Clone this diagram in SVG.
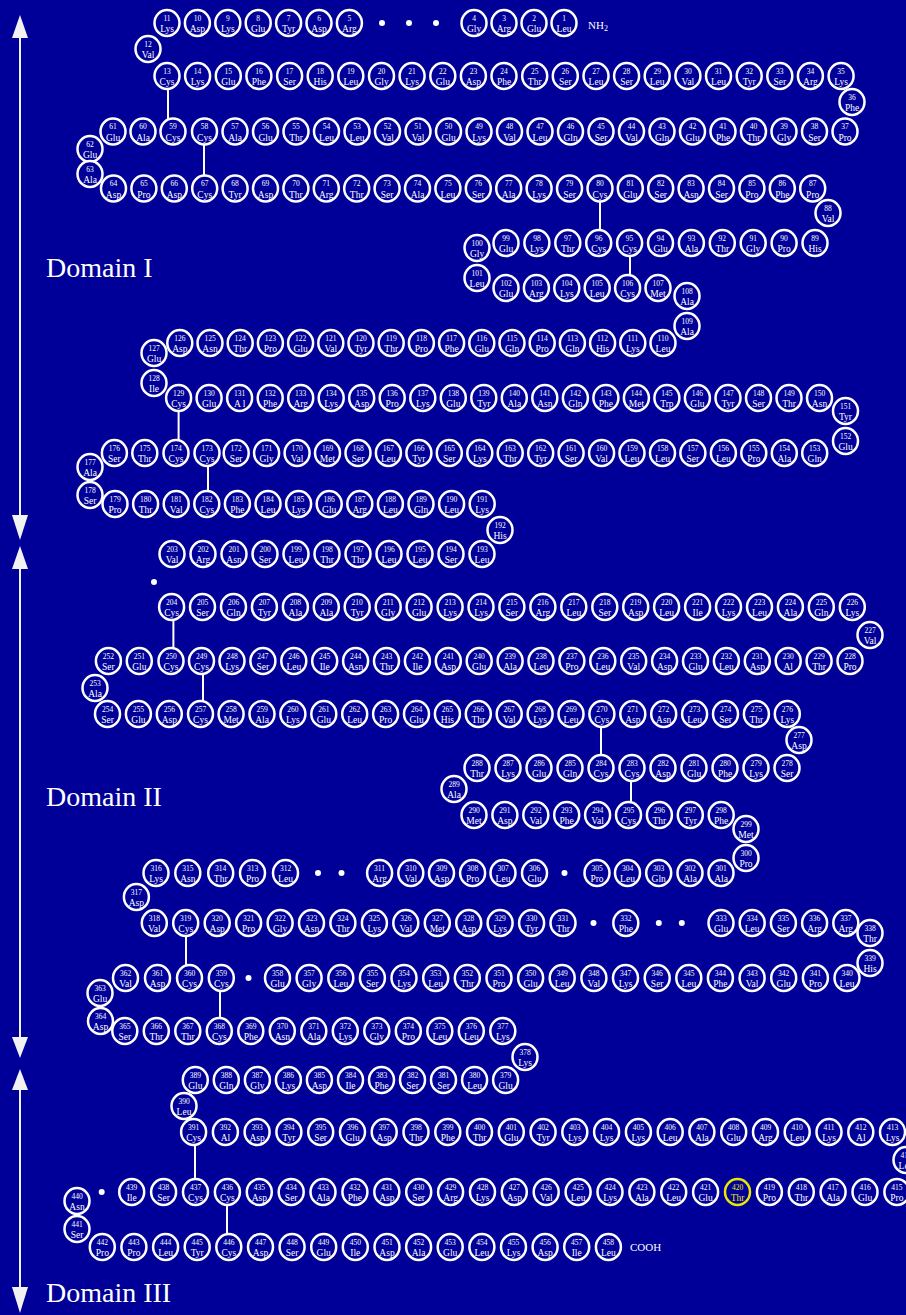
<svg xmlns="http://www.w3.org/2000/svg" xmlns:xlink="http://www.w3.org/1999/xlink" width="906" height="1315" viewBox="0 0 906 1315">
<style>
.n{font-family:"Liberation Serif",serif;font-size:7.5px;fill:#fff;text-anchor:middle}
.a{font-family:"Liberation Serif",serif;font-size:9.5px;fill:#fff;text-anchor:middle}
.t{font-family:"Liberation Serif",serif;fill:#fff}
.d{font-family:"Liberation Serif",serif;font-size:28px;fill:#fff}
.y{fill:#e8e800}
.ss line{stroke:#fff;stroke-width:2}
.ar line{stroke:#f2f2f2;stroke-width:2}
.ar polygon{fill:#f2f2f2}
.dot{fill:#fff}
</style>
<defs>
<ellipse id="o" rx="12.5" ry="13" fill="#000099" stroke="#fff" stroke-width="2.5"/>
</defs>
<rect width="906" height="1315" fill="#000099"/>
<g id="arrows" class="ar">
<line x1="20" y1="36" x2="20" y2="517"/>
<polygon points="20,15 12,38 28,38"/>
<polygon points="20,540 12,515 28,515"/>
<line x1="20" y1="567" x2="20" y2="1039"/>
<polygon points="20,546 12,569 28,569"/>
<polygon points="20,1058 12,1037 28,1037"/>
<line x1="20" y1="1088" x2="20" y2="1289"/>
<polygon points="20,1069 12,1090 28,1090"/>
<polygon points="20,1313 12,1287 28,1287"/>
</g>
<g id="labels">
<text class="d" x="46" y="277">Domain I</text>
<text class="d" x="46" y="806">Domain II</text>
<text class="d" x="46" y="1302">Domain III</text>
<text class="t" x="588" y="29" font-size="11">NH<tspan font-size="8" dy="2">2</tspan></text>
<text class="t" x="630" y="1251" font-size="11">COOH</text>
</g>
<g id="dots" class="dot">
<circle cx="382" cy="23" r="3"/><circle cx="409" cy="23" r="3"/><circle cx="436" cy="23" r="3"/>
<circle cx="154" cy="582" r="3"/>
<circle cx="318" cy="873" r="3"/><circle cx="341.5" cy="873" r="3"/><circle cx="564.5" cy="873" r="3"/>
<circle cx="593.5" cy="923" r="3"/><circle cx="658.8" cy="923" r="3"/><circle cx="681.8" cy="923" r="3"/>
<circle cx="248.5" cy="978" r="3"/>
<circle cx="101.7" cy="1192" r="3"/>
</g>
<g id="connectors" class="ss">
<line x1="168" y1="89" x2="168" y2="119"/>
<line x1="204" y1="145" x2="204" y2="175"/>
<line x1="600" y1="202" x2="600" y2="230"/>
<line x1="630" y1="256" x2="630" y2="275"/>
<line x1="178.6" y1="411" x2="178.6" y2="440"/>
<line x1="208" y1="466" x2="208" y2="491"/>
<line x1="173.4" y1="620" x2="173.4" y2="648"/>
<line x1="203" y1="674" x2="203" y2="701"/>
<line x1="601" y1="727" x2="601" y2="755"/>
<line x1="631" y1="781" x2="631" y2="802"/>
<line x1="186" y1="936" x2="186" y2="965"/>
<line x1="220" y1="991" x2="220" y2="1018"/>
<line x1="195" y1="1145" x2="195" y2="1179"/>
<line x1="227" y1="1205" x2="227" y2="1234"/>
</g>
<g id="residues">
<g id="r1" transform="translate(564,23)"><use href="#o"/><text class="n" y="-2.5">1</text><text class="a" y="9">Leu</text></g>
<g id="r2" transform="translate(534,23)"><use href="#o"/><text class="n" y="-2.5">2</text><text class="a" y="9">Glu</text></g>
<g id="r3" transform="translate(504,23)"><use href="#o"/><text class="n" y="-2.5">3</text><text class="a" y="9">Arg</text></g>
<g id="r4" transform="translate(474,23)"><use href="#o"/><text class="n" y="-2.5">4</text><text class="a" y="9">Gly</text></g>
<g id="r5" transform="translate(349.4,23)"><use href="#o"/><text class="n" y="-2.5">5</text><text class="a" y="9">Arg</text></g>
<g id="r6" transform="translate(319,23)"><use href="#o"/><text class="n" y="-2.5">6</text><text class="a" y="9">Asp</text></g>
<g id="r7" transform="translate(288.6,23)"><use href="#o"/><text class="n" y="-2.5">7</text><text class="a" y="9">Tyr</text></g>
<g id="r8" transform="translate(258.2,23)"><use href="#o"/><text class="n" y="-2.5">8</text><text class="a" y="9">Glu</text></g>
<g id="r9" transform="translate(227.8,23)"><use href="#o"/><text class="n" y="-2.5">9</text><text class="a" y="9">Lys</text></g>
<g id="r10" transform="translate(197.4,23)"><use href="#o"/><text class="n" y="-2.5">10</text><text class="a" y="9">Asp</text></g>
<g id="r11" transform="translate(167,23)"><use href="#o"/><text class="n" y="-2.5">11</text><text class="a" y="9">Lys</text></g>
<g id="r12" transform="translate(148,49)"><use href="#o"/><text class="n" y="-2.5">12</text><text class="a" y="9">Val</text></g>
<g id="r13" transform="translate(167,76)"><use href="#o"/><text class="n" y="-2.5">13</text><text class="a" y="9">Cys</text></g>
<g id="r14" transform="translate(197.6,76)"><use href="#o"/><text class="n" y="-2.5">14</text><text class="a" y="9">Lys</text></g>
<g id="r15" transform="translate(228.3,76)"><use href="#o"/><text class="n" y="-2.5">15</text><text class="a" y="9">Glu</text></g>
<g id="r16" transform="translate(258.9,76)"><use href="#o"/><text class="n" y="-2.5">16</text><text class="a" y="9">Phe</text></g>
<g id="r17" transform="translate(289.6,76)"><use href="#o"/><text class="n" y="-2.5">17</text><text class="a" y="9">Ser</text></g>
<g id="r18" transform="translate(320.2,76)"><use href="#o"/><text class="n" y="-2.5">18</text><text class="a" y="9">His</text></g>
<g id="r19" transform="translate(350.8,76)"><use href="#o"/><text class="n" y="-2.5">19</text><text class="a" y="9">Leu</text></g>
<g id="r20" transform="translate(381.5,76)"><use href="#o"/><text class="n" y="-2.5">20</text><text class="a" y="9">Gly</text></g>
<g id="r21" transform="translate(412.1,76)"><use href="#o"/><text class="n" y="-2.5">21</text><text class="a" y="9">Lys</text></g>
<g id="r22" transform="translate(442.8,76)"><use href="#o"/><text class="n" y="-2.5">22</text><text class="a" y="9">Glu</text></g>
<g id="r23" transform="translate(473.4,76)"><use href="#o"/><text class="n" y="-2.5">23</text><text class="a" y="9">Asp</text></g>
<g id="r24" transform="translate(504,76)"><use href="#o"/><text class="n" y="-2.5">24</text><text class="a" y="9">Phe</text></g>
<g id="r25" transform="translate(534.7,76)"><use href="#o"/><text class="n" y="-2.5">25</text><text class="a" y="9">Thr</text></g>
<g id="r26" transform="translate(565.3,76)"><use href="#o"/><text class="n" y="-2.5">26</text><text class="a" y="9">Ser</text></g>
<g id="r27" transform="translate(596,76)"><use href="#o"/><text class="n" y="-2.5">27</text><text class="a" y="9">Leu</text></g>
<g id="r28" transform="translate(626.6,76)"><use href="#o"/><text class="n" y="-2.5">28</text><text class="a" y="9">Ser</text></g>
<g id="r29" transform="translate(657.2,76)"><use href="#o"/><text class="n" y="-2.5">29</text><text class="a" y="9">Leu</text></g>
<g id="r30" transform="translate(687.9,76)"><use href="#o"/><text class="n" y="-2.5">30</text><text class="a" y="9">Val</text></g>
<g id="r31" transform="translate(718.5,76)"><use href="#o"/><text class="n" y="-2.5">31</text><text class="a" y="9">Leu</text></g>
<g id="r32" transform="translate(749.2,76)"><use href="#o"/><text class="n" y="-2.5">32</text><text class="a" y="9">Tyr</text></g>
<g id="r33" transform="translate(779.8,76)"><use href="#o"/><text class="n" y="-2.5">33</text><text class="a" y="9">Ser</text></g>
<g id="r34" transform="translate(810.4,76)"><use href="#o"/><text class="n" y="-2.5">34</text><text class="a" y="9">Arg</text></g>
<g id="r35" transform="translate(841.1,76)"><use href="#o"/><text class="n" y="-2.5">35</text><text class="a" y="9">Lys</text></g>
<g id="r36" transform="translate(852,102)"><use href="#o"/><text class="n" y="-2.5">36</text><text class="a" y="9">Phe</text></g>
<g id="r37" transform="translate(845,131.5)"><use href="#o"/><text class="n" y="-2.5">37</text><text class="a" y="9">Pro</text></g>
<g id="r38" transform="translate(814.5,131.5)"><use href="#o"/><text class="n" y="-2.5">38</text><text class="a" y="9">Ser</text></g>
<g id="r39" transform="translate(784,131.5)"><use href="#o"/><text class="n" y="-2.5">39</text><text class="a" y="9">Gly</text></g>
<g id="r40" transform="translate(753.5,131.5)"><use href="#o"/><text class="n" y="-2.5">40</text><text class="a" y="9">Thr</text></g>
<g id="r41" transform="translate(723,131.5)"><use href="#o"/><text class="n" y="-2.5">41</text><text class="a" y="9">Phe</text></g>
<g id="r42" transform="translate(692.5,131.5)"><use href="#o"/><text class="n" y="-2.5">42</text><text class="a" y="9">Glu</text></g>
<g id="r43" transform="translate(662,131.5)"><use href="#o"/><text class="n" y="-2.5">43</text><text class="a" y="9">Gln</text></g>
<g id="r44" transform="translate(631.5,131.5)"><use href="#o"/><text class="n" y="-2.5">44</text><text class="a" y="9">Val</text></g>
<g id="r45" transform="translate(601,131.5)"><use href="#o"/><text class="n" y="-2.5">45</text><text class="a" y="9">Ser</text></g>
<g id="r46" transform="translate(570.5,131.5)"><use href="#o"/><text class="n" y="-2.5">46</text><text class="a" y="9">Gln</text></g>
<g id="r47" transform="translate(540,131.5)"><use href="#o"/><text class="n" y="-2.5">47</text><text class="a" y="9">Leu</text></g>
<g id="r48" transform="translate(509.5,131.5)"><use href="#o"/><text class="n" y="-2.5">48</text><text class="a" y="9">Val</text></g>
<g id="r49" transform="translate(479,131.5)"><use href="#o"/><text class="n" y="-2.5">49</text><text class="a" y="9">Lys</text></g>
<g id="r50" transform="translate(448.5,131.5)"><use href="#o"/><text class="n" y="-2.5">50</text><text class="a" y="9">Glu</text></g>
<g id="r51" transform="translate(418,131.5)"><use href="#o"/><text class="n" y="-2.5">51</text><text class="a" y="9">Val</text></g>
<g id="r52" transform="translate(387.5,131.5)"><use href="#o"/><text class="n" y="-2.5">52</text><text class="a" y="9">Val</text></g>
<g id="r53" transform="translate(357,131.5)"><use href="#o"/><text class="n" y="-2.5">53</text><text class="a" y="9">Leu</text></g>
<g id="r54" transform="translate(326.5,131.5)"><use href="#o"/><text class="n" y="-2.5">54</text><text class="a" y="9">Leu</text></g>
<g id="r55" transform="translate(296,131.5)"><use href="#o"/><text class="n" y="-2.5">55</text><text class="a" y="9">Thr</text></g>
<g id="r56" transform="translate(265.5,131.5)"><use href="#o"/><text class="n" y="-2.5">56</text><text class="a" y="9">Glu</text></g>
<g id="r57" transform="translate(235,131.5)"><use href="#o"/><text class="n" y="-2.5">57</text><text class="a" y="9">Ala</text></g>
<g id="r58" transform="translate(204.5,131.5)"><use href="#o"/><text class="n" y="-2.5">58</text><text class="a" y="9">Cys</text></g>
<g id="r59" transform="translate(173,131.5)"><use href="#o"/><text class="n" y="-2.5">59</text><text class="a" y="9">Cys</text></g>
<g id="r60" transform="translate(143,131.5)"><use href="#o"/><text class="n" y="-2.5">60</text><text class="a" y="9">Ala</text></g>
<g id="r61" transform="translate(113,131.5)"><use href="#o"/><text class="n" y="-2.5">61</text><text class="a" y="9">Glu</text></g>
<g id="r62" transform="translate(90,149)"><use href="#o"/><text class="n" y="-2.5">62</text><text class="a" y="9">Glu</text></g>
<g id="r63" transform="translate(90,174)"><use href="#o"/><text class="n" y="-2.5">63</text><text class="a" y="9">Ala</text></g>
<g id="r64" transform="translate(113.5,188.5)"><use href="#o"/><text class="n" y="-2.5">64</text><text class="a" y="9">Asp</text></g>
<g id="r65" transform="translate(143.9,188.5)"><use href="#o"/><text class="n" y="-2.5">65</text><text class="a" y="9">Pro</text></g>
<g id="r66" transform="translate(174.3,188.5)"><use href="#o"/><text class="n" y="-2.5">66</text><text class="a" y="9">Asp</text></g>
<g id="r67" transform="translate(204.7,188.5)"><use href="#o"/><text class="n" y="-2.5">67</text><text class="a" y="9">Cys</text></g>
<g id="r68" transform="translate(235.1,188.5)"><use href="#o"/><text class="n" y="-2.5">68</text><text class="a" y="9">Tyr</text></g>
<g id="r69" transform="translate(265.5,188.5)"><use href="#o"/><text class="n" y="-2.5">69</text><text class="a" y="9">Asp</text></g>
<g id="r70" transform="translate(295.9,188.5)"><use href="#o"/><text class="n" y="-2.5">70</text><text class="a" y="9">Thr</text></g>
<g id="r71" transform="translate(326.3,188.5)"><use href="#o"/><text class="n" y="-2.5">71</text><text class="a" y="9">Arg</text></g>
<g id="r72" transform="translate(356.7,188.5)"><use href="#o"/><text class="n" y="-2.5">72</text><text class="a" y="9">Thr</text></g>
<g id="r73" transform="translate(387.1,188.5)"><use href="#o"/><text class="n" y="-2.5">73</text><text class="a" y="9">Ser</text></g>
<g id="r74" transform="translate(417.5,188.5)"><use href="#o"/><text class="n" y="-2.5">74</text><text class="a" y="9">Ala</text></g>
<g id="r75" transform="translate(447.9,188.5)"><use href="#o"/><text class="n" y="-2.5">75</text><text class="a" y="9">Leu</text></g>
<g id="r76" transform="translate(478.3,188.5)"><use href="#o"/><text class="n" y="-2.5">76</text><text class="a" y="9">Ser</text></g>
<g id="r77" transform="translate(508.7,188.5)"><use href="#o"/><text class="n" y="-2.5">77</text><text class="a" y="9">Ala</text></g>
<g id="r78" transform="translate(539.1,188.5)"><use href="#o"/><text class="n" y="-2.5">78</text><text class="a" y="9">Lys</text></g>
<g id="r79" transform="translate(569.5,188.5)"><use href="#o"/><text class="n" y="-2.5">79</text><text class="a" y="9">Ser</text></g>
<g id="r80" transform="translate(600,188.5)"><use href="#o"/><text class="n" y="-2.5">80</text><text class="a" y="9">Cys</text></g>
<g id="r81" transform="translate(630.3,188.5)"><use href="#o"/><text class="n" y="-2.5">81</text><text class="a" y="9">Glu</text></g>
<g id="r82" transform="translate(660.7,188.5)"><use href="#o"/><text class="n" y="-2.5">82</text><text class="a" y="9">Ser</text></g>
<g id="r83" transform="translate(691.1,188.5)"><use href="#o"/><text class="n" y="-2.5">83</text><text class="a" y="9">Asn</text></g>
<g id="r84" transform="translate(721.5,188.5)"><use href="#o"/><text class="n" y="-2.5">84</text><text class="a" y="9">Ser</text></g>
<g id="r85" transform="translate(751.9,188.5)"><use href="#o"/><text class="n" y="-2.5">85</text><text class="a" y="9">Pro</text></g>
<g id="r86" transform="translate(782.3,188.5)"><use href="#o"/><text class="n" y="-2.5">86</text><text class="a" y="9">Phe</text></g>
<g id="r87" transform="translate(812.7,188.5)"><use href="#o"/><text class="n" y="-2.5">87</text><text class="a" y="9">Pro</text></g>
<g id="r88" transform="translate(828,213)"><use href="#o"/><text class="n" y="-2.5">88</text><text class="a" y="9">Val</text></g>
<g id="r89" transform="translate(815,243)"><use href="#o"/><text class="n" y="-2.5">89</text><text class="a" y="9">His</text></g>
<g id="r90" transform="translate(784.1,243)"><use href="#o"/><text class="n" y="-2.5">90</text><text class="a" y="9">Pro</text></g>
<g id="r91" transform="translate(753.2,243)"><use href="#o"/><text class="n" y="-2.5">91</text><text class="a" y="9">Gly</text></g>
<g id="r92" transform="translate(722.3,243)"><use href="#o"/><text class="n" y="-2.5">92</text><text class="a" y="9">Thr</text></g>
<g id="r93" transform="translate(691.4,243)"><use href="#o"/><text class="n" y="-2.5">93</text><text class="a" y="9">Ala</text></g>
<g id="r94" transform="translate(660.5,243)"><use href="#o"/><text class="n" y="-2.5">94</text><text class="a" y="9">Glu</text></g>
<g id="r95" transform="translate(629.6,243)"><use href="#o"/><text class="n" y="-2.5">95</text><text class="a" y="9">Cys</text></g>
<g id="r96" transform="translate(598.7,243)"><use href="#o"/><text class="n" y="-2.5">96</text><text class="a" y="9">Cys</text></g>
<g id="r97" transform="translate(567.8,243)"><use href="#o"/><text class="n" y="-2.5">97</text><text class="a" y="9">Thr</text></g>
<g id="r98" transform="translate(536.9,243)"><use href="#o"/><text class="n" y="-2.5">98</text><text class="a" y="9">Lys</text></g>
<g id="r99" transform="translate(506,243)"><use href="#o"/><text class="n" y="-2.5">99</text><text class="a" y="9">Glu</text></g>
<g id="r100" transform="translate(477,248)"><use href="#o"/><text class="n" y="-2.5">100</text><text class="a" y="9">Gly</text></g>
<g id="r101" transform="translate(477,278)"><use href="#o"/><text class="n" y="-2.5">101</text><text class="a" y="9">Leu</text></g>
<g id="r102" transform="translate(506,288)"><use href="#o"/><text class="n" y="-2.5">102</text><text class="a" y="9">Glu</text></g>
<g id="r103" transform="translate(536.4,288)"><use href="#o"/><text class="n" y="-2.5">103</text><text class="a" y="9">Arg</text></g>
<g id="r104" transform="translate(566.8,288)"><use href="#o"/><text class="n" y="-2.5">104</text><text class="a" y="9">Lys</text></g>
<g id="r105" transform="translate(597.2,288)"><use href="#o"/><text class="n" y="-2.5">105</text><text class="a" y="9">Leu</text></g>
<g id="r106" transform="translate(627.6,288)"><use href="#o"/><text class="n" y="-2.5">106</text><text class="a" y="9">Cys</text></g>
<g id="r107" transform="translate(658,288)"><use href="#o"/><text class="n" y="-2.5">107</text><text class="a" y="9">Met</text></g>
<g id="r108" transform="translate(687,296)"><use href="#o"/><text class="n" y="-2.5">108</text><text class="a" y="9">Ala</text></g>
<g id="r109" transform="translate(687,326)"><use href="#o"/><text class="n" y="-2.5">109</text><text class="a" y="9">Ala</text></g>
<g id="r110" transform="translate(663,343)"><use href="#o"/><text class="n" y="-2.5">110</text><text class="a" y="9">Leu</text></g>
<g id="r111" transform="translate(632.8,343)"><use href="#o"/><text class="n" y="-2.5">111</text><text class="a" y="9">Lys</text></g>
<g id="r112" transform="translate(602.6,343)"><use href="#o"/><text class="n" y="-2.5">112</text><text class="a" y="9">His</text></g>
<g id="r113" transform="translate(572.4,343)"><use href="#o"/><text class="n" y="-2.5">113</text><text class="a" y="9">Gln</text></g>
<g id="r114" transform="translate(542.2,343)"><use href="#o"/><text class="n" y="-2.5">114</text><text class="a" y="9">Pro</text></g>
<g id="r115" transform="translate(512,343)"><use href="#o"/><text class="n" y="-2.5">115</text><text class="a" y="9">Gln</text></g>
<g id="r116" transform="translate(481.8,343)"><use href="#o"/><text class="n" y="-2.5">116</text><text class="a" y="9">Glu</text></g>
<g id="r117" transform="translate(451.6,343)"><use href="#o"/><text class="n" y="-2.5">117</text><text class="a" y="9">Phe</text></g>
<g id="r118" transform="translate(421.4,343)"><use href="#o"/><text class="n" y="-2.5">118</text><text class="a" y="9">Pro</text></g>
<g id="r119" transform="translate(391.2,343)"><use href="#o"/><text class="n" y="-2.5">119</text><text class="a" y="9">Thr</text></g>
<g id="r120" transform="translate(361,343)"><use href="#o"/><text class="n" y="-2.5">120</text><text class="a" y="9">Tyr</text></g>
<g id="r121" transform="translate(330.8,343)"><use href="#o"/><text class="n" y="-2.5">121</text><text class="a" y="9">Val</text></g>
<g id="r122" transform="translate(300.6,343)"><use href="#o"/><text class="n" y="-2.5">122</text><text class="a" y="9">Glu</text></g>
<g id="r123" transform="translate(270.4,343)"><use href="#o"/><text class="n" y="-2.5">123</text><text class="a" y="9">Pro</text></g>
<g id="r124" transform="translate(240.2,343)"><use href="#o"/><text class="n" y="-2.5">124</text><text class="a" y="9">Thr</text></g>
<g id="r125" transform="translate(210,343)"><use href="#o"/><text class="n" y="-2.5">125</text><text class="a" y="9">Asn</text></g>
<g id="r126" transform="translate(179.8,343)"><use href="#o"/><text class="n" y="-2.5">126</text><text class="a" y="9">Asp</text></g>
<g id="r127" transform="translate(154,353)"><use href="#o"/><text class="n" y="-2.5">127</text><text class="a" y="9">Glu</text></g>
<g id="r128" transform="translate(154,383)"><use href="#o"/><text class="n" y="-2.5">128</text><text class="a" y="9">Ile</text></g>
<g id="r129" transform="translate(178.6,398)"><use href="#o"/><text class="n" y="-2.5">129</text><text class="a" y="9">Cys</text></g>
<g id="r130" transform="translate(209.1,398)"><use href="#o"/><text class="n" y="-2.5">130</text><text class="a" y="9">Glu</text></g>
<g id="r131" transform="translate(239.6,398)"><use href="#o"/><text class="n" y="-2.5">131</text><text class="a" y="9">A l</text></g>
<g id="r132" transform="translate(270.2,398)"><use href="#o"/><text class="n" y="-2.5">132</text><text class="a" y="9">Phe</text></g>
<g id="r133" transform="translate(300.7,398)"><use href="#o"/><text class="n" y="-2.5">133</text><text class="a" y="9">Arg</text></g>
<g id="r134" transform="translate(331.2,398)"><use href="#o"/><text class="n" y="-2.5">134</text><text class="a" y="9">Lys</text></g>
<g id="r135" transform="translate(361.7,398)"><use href="#o"/><text class="n" y="-2.5">135</text><text class="a" y="9">Asp</text></g>
<g id="r136" transform="translate(392.2,398)"><use href="#o"/><text class="n" y="-2.5">136</text><text class="a" y="9">Pro</text></g>
<g id="r137" transform="translate(422.8,398)"><use href="#o"/><text class="n" y="-2.5">137</text><text class="a" y="9">Lys</text></g>
<g id="r138" transform="translate(453.3,398)"><use href="#o"/><text class="n" y="-2.5">138</text><text class="a" y="9">Glu</text></g>
<g id="r139" transform="translate(483.8,398)"><use href="#o"/><text class="n" y="-2.5">139</text><text class="a" y="9">Tyr</text></g>
<g id="r140" transform="translate(514.3,398)"><use href="#o"/><text class="n" y="-2.5">140</text><text class="a" y="9">Ala</text></g>
<g id="r141" transform="translate(544.8,398)"><use href="#o"/><text class="n" y="-2.5">141</text><text class="a" y="9">Asn</text></g>
<g id="r142" transform="translate(575.4,398)"><use href="#o"/><text class="n" y="-2.5">142</text><text class="a" y="9">Gln</text></g>
<g id="r143" transform="translate(605.9,398)"><use href="#o"/><text class="n" y="-2.5">143</text><text class="a" y="9">Phe</text></g>
<g id="r144" transform="translate(636.4,398)"><use href="#o"/><text class="n" y="-2.5">144</text><text class="a" y="9">Met</text></g>
<g id="r145" transform="translate(666.9,398)"><use href="#o"/><text class="n" y="-2.5">145</text><text class="a" y="9">Trp</text></g>
<g id="r146" transform="translate(697.4,398)"><use href="#o"/><text class="n" y="-2.5">146</text><text class="a" y="9">Glu</text></g>
<g id="r147" transform="translate(728,398)"><use href="#o"/><text class="n" y="-2.5">147</text><text class="a" y="9">Tyr</text></g>
<g id="r148" transform="translate(758.5,398)"><use href="#o"/><text class="n" y="-2.5">148</text><text class="a" y="9">Ser</text></g>
<g id="r149" transform="translate(789,398)"><use href="#o"/><text class="n" y="-2.5">149</text><text class="a" y="9">Thr</text></g>
<g id="r150" transform="translate(819.5,398)"><use href="#o"/><text class="n" y="-2.5">150</text><text class="a" y="9">Asn</text></g>
<g id="r151" transform="translate(845.5,411)"><use href="#o"/><text class="n" y="-2.5">151</text><text class="a" y="9">Tyr</text></g>
<g id="r152" transform="translate(845.5,441)"><use href="#o"/><text class="n" y="-2.5">152</text><text class="a" y="9">Glu</text></g>
<g id="r153" transform="translate(814.7,453)"><use href="#o"/><text class="n" y="-2.5">153</text><text class="a" y="9">Gln</text></g>
<g id="r154" transform="translate(784.3,453)"><use href="#o"/><text class="n" y="-2.5">154</text><text class="a" y="9">Ala</text></g>
<g id="r155" transform="translate(753.8,453)"><use href="#o"/><text class="n" y="-2.5">155</text><text class="a" y="9">Pro</text></g>
<g id="r156" transform="translate(723.4,453)"><use href="#o"/><text class="n" y="-2.5">156</text><text class="a" y="9">Leu</text></g>
<g id="r157" transform="translate(692.9,453)"><use href="#o"/><text class="n" y="-2.5">157</text><text class="a" y="9">Ser</text></g>
<g id="r158" transform="translate(662.5,453)"><use href="#o"/><text class="n" y="-2.5">158</text><text class="a" y="9">Leu</text></g>
<g id="r159" transform="translate(632,453)"><use href="#o"/><text class="n" y="-2.5">159</text><text class="a" y="9">Leu</text></g>
<g id="r160" transform="translate(601.6,453)"><use href="#o"/><text class="n" y="-2.5">160</text><text class="a" y="9">Val</text></g>
<g id="r161" transform="translate(571.1,453)"><use href="#o"/><text class="n" y="-2.5">161</text><text class="a" y="9">Ser</text></g>
<g id="r162" transform="translate(540.7,453)"><use href="#o"/><text class="n" y="-2.5">162</text><text class="a" y="9">Tyr</text></g>
<g id="r163" transform="translate(510.2,453)"><use href="#o"/><text class="n" y="-2.5">163</text><text class="a" y="9">Thr</text></g>
<g id="r164" transform="translate(479.8,453)"><use href="#o"/><text class="n" y="-2.5">164</text><text class="a" y="9">Lys</text></g>
<g id="r165" transform="translate(449.3,453)"><use href="#o"/><text class="n" y="-2.5">165</text><text class="a" y="9">Ser</text></g>
<g id="r166" transform="translate(418.9,453)"><use href="#o"/><text class="n" y="-2.5">166</text><text class="a" y="9">Tyr</text></g>
<g id="r167" transform="translate(388.4,453)"><use href="#o"/><text class="n" y="-2.5">167</text><text class="a" y="9">Leu</text></g>
<g id="r168" transform="translate(358,453)"><use href="#o"/><text class="n" y="-2.5">168</text><text class="a" y="9">Ser</text></g>
<g id="r169" transform="translate(327.5,453)"><use href="#o"/><text class="n" y="-2.5">169</text><text class="a" y="9">Met</text></g>
<g id="r170" transform="translate(297.1,453)"><use href="#o"/><text class="n" y="-2.5">170</text><text class="a" y="9">Val</text></g>
<g id="r171" transform="translate(266.6,453)"><use href="#o"/><text class="n" y="-2.5">171</text><text class="a" y="9">Gly</text></g>
<g id="r172" transform="translate(236.2,453)"><use href="#o"/><text class="n" y="-2.5">172</text><text class="a" y="9">Ser</text></g>
<g id="r173" transform="translate(207,453)"><use href="#o"/><text class="n" y="-2.5">173</text><text class="a" y="9">Cys</text></g>
<g id="r174" transform="translate(176,453)"><use href="#o"/><text class="n" y="-2.5">174</text><text class="a" y="9">Cys</text></g>
<g id="r175" transform="translate(144.8,453)"><use href="#o"/><text class="n" y="-2.5">175</text><text class="a" y="9">Thr</text></g>
<g id="r176" transform="translate(114.4,453)"><use href="#o"/><text class="n" y="-2.5">176</text><text class="a" y="9">Ser</text></g>
<g id="r177" transform="translate(90,467)"><use href="#o"/><text class="n" y="-2.5">177</text><text class="a" y="9">Ala</text></g>
<g id="r178" transform="translate(90,495)"><use href="#o"/><text class="n" y="-2.5">178</text><text class="a" y="9">Ser</text></g>
<g id="r179" transform="translate(115,504)"><use href="#o"/><text class="n" y="-2.5">179</text><text class="a" y="9">Pro</text></g>
<g id="r180" transform="translate(145.6,504)"><use href="#o"/><text class="n" y="-2.5">180</text><text class="a" y="9">Thr</text></g>
<g id="r181" transform="translate(176.2,504)"><use href="#o"/><text class="n" y="-2.5">181</text><text class="a" y="9">Val</text></g>
<g id="r182" transform="translate(206.8,504)"><use href="#o"/><text class="n" y="-2.5">182</text><text class="a" y="9">Cys</text></g>
<g id="r183" transform="translate(237.4,504)"><use href="#o"/><text class="n" y="-2.5">183</text><text class="a" y="9">Phe</text></g>
<g id="r184" transform="translate(268,504)"><use href="#o"/><text class="n" y="-2.5">184</text><text class="a" y="9">Leu</text></g>
<g id="r185" transform="translate(298.6,504)"><use href="#o"/><text class="n" y="-2.5">185</text><text class="a" y="9">Lys</text></g>
<g id="r186" transform="translate(329.2,504)"><use href="#o"/><text class="n" y="-2.5">186</text><text class="a" y="9">Glu</text></g>
<g id="r187" transform="translate(359.8,504)"><use href="#o"/><text class="n" y="-2.5">187</text><text class="a" y="9">Arg</text></g>
<g id="r188" transform="translate(390.4,504)"><use href="#o"/><text class="n" y="-2.5">188</text><text class="a" y="9">Leu</text></g>
<g id="r189" transform="translate(421,504)"><use href="#o"/><text class="n" y="-2.5">189</text><text class="a" y="9">Gln</text></g>
<g id="r190" transform="translate(451.6,504)"><use href="#o"/><text class="n" y="-2.5">190</text><text class="a" y="9">Leu</text></g>
<g id="r191" transform="translate(482.2,504)"><use href="#o"/><text class="n" y="-2.5">191</text><text class="a" y="9">Lys</text></g>
<g id="r192" transform="translate(500,530)"><use href="#o"/><text class="n" y="-2.5">192</text><text class="a" y="9">His</text></g>
<g id="r193" transform="translate(482,554)"><use href="#o"/><text class="n" y="-2.5">193</text><text class="a" y="9">Leu</text></g>
<g id="r194" transform="translate(451,554)"><use href="#o"/><text class="n" y="-2.5">194</text><text class="a" y="9">Ser</text></g>
<g id="r195" transform="translate(420,554)"><use href="#o"/><text class="n" y="-2.5">195</text><text class="a" y="9">Leu</text></g>
<g id="r196" transform="translate(389,554)"><use href="#o"/><text class="n" y="-2.5">196</text><text class="a" y="9">Leu</text></g>
<g id="r197" transform="translate(358,554)"><use href="#o"/><text class="n" y="-2.5">197</text><text class="a" y="9">Thr</text></g>
<g id="r198" transform="translate(327,554)"><use href="#o"/><text class="n" y="-2.5">198</text><text class="a" y="9">Thr</text></g>
<g id="r199" transform="translate(296,554)"><use href="#o"/><text class="n" y="-2.5">199</text><text class="a" y="9">Leu</text></g>
<g id="r200" transform="translate(265,554)"><use href="#o"/><text class="n" y="-2.5">200</text><text class="a" y="9">Ser</text></g>
<g id="r201" transform="translate(234,554)"><use href="#o"/><text class="n" y="-2.5">201</text><text class="a" y="9">Asn</text></g>
<g id="r202" transform="translate(203,554)"><use href="#o"/><text class="n" y="-2.5">202</text><text class="a" y="9">Arg</text></g>
<g id="r203" transform="translate(172,554)"><use href="#o"/><text class="n" y="-2.5">203</text><text class="a" y="9">Val</text></g>
<g id="r204" transform="translate(171.6,607)"><use href="#o"/><text class="n" y="-2.5">204</text><text class="a" y="9">Cys</text></g>
<g id="r205" transform="translate(202.5,607)"><use href="#o"/><text class="n" y="-2.5">205</text><text class="a" y="9">Ser</text></g>
<g id="r206" transform="translate(233.5,607)"><use href="#o"/><text class="n" y="-2.5">206</text><text class="a" y="9">Gln</text></g>
<g id="r207" transform="translate(264.4,607)"><use href="#o"/><text class="n" y="-2.5">207</text><text class="a" y="9">Tyr</text></g>
<g id="r208" transform="translate(295.4,607)"><use href="#o"/><text class="n" y="-2.5">208</text><text class="a" y="9">Ala</text></g>
<g id="r209" transform="translate(326.3,607)"><use href="#o"/><text class="n" y="-2.5">209</text><text class="a" y="9">Ala</text></g>
<g id="r210" transform="translate(357.2,607)"><use href="#o"/><text class="n" y="-2.5">210</text><text class="a" y="9">Tyr</text></g>
<g id="r211" transform="translate(388.2,607)"><use href="#o"/><text class="n" y="-2.5">211</text><text class="a" y="9">Gly</text></g>
<g id="r212" transform="translate(419.1,607)"><use href="#o"/><text class="n" y="-2.5">212</text><text class="a" y="9">Glu</text></g>
<g id="r213" transform="translate(450.1,607)"><use href="#o"/><text class="n" y="-2.5">213</text><text class="a" y="9">Lys</text></g>
<g id="r214" transform="translate(481,607)"><use href="#o"/><text class="n" y="-2.5">214</text><text class="a" y="9">Lys</text></g>
<g id="r215" transform="translate(511.9,607)"><use href="#o"/><text class="n" y="-2.5">215</text><text class="a" y="9">Ser</text></g>
<g id="r216" transform="translate(542.9,607)"><use href="#o"/><text class="n" y="-2.5">216</text><text class="a" y="9">Arg</text></g>
<g id="r217" transform="translate(573.8,607)"><use href="#o"/><text class="n" y="-2.5">217</text><text class="a" y="9">Leu</text></g>
<g id="r218" transform="translate(604.8,607)"><use href="#o"/><text class="n" y="-2.5">218</text><text class="a" y="9">Ser</text></g>
<g id="r219" transform="translate(635.7,607)"><use href="#o"/><text class="n" y="-2.5">219</text><text class="a" y="9">Asp</text></g>
<g id="r220" transform="translate(666.6,607)"><use href="#o"/><text class="n" y="-2.5">220</text><text class="a" y="9">Leu</text></g>
<g id="r221" transform="translate(697.6,607)"><use href="#o"/><text class="n" y="-2.5">221</text><text class="a" y="9">Ile</text></g>
<g id="r222" transform="translate(728.5,607)"><use href="#o"/><text class="n" y="-2.5">222</text><text class="a" y="9">Lys</text></g>
<g id="r223" transform="translate(759.5,607)"><use href="#o"/><text class="n" y="-2.5">223</text><text class="a" y="9">Leu</text></g>
<g id="r224" transform="translate(790.4,607)"><use href="#o"/><text class="n" y="-2.5">224</text><text class="a" y="9">Ala</text></g>
<g id="r225" transform="translate(821.3,607)"><use href="#o"/><text class="n" y="-2.5">225</text><text class="a" y="9">Gln</text></g>
<g id="r226" transform="translate(852.3,607)"><use href="#o"/><text class="n" y="-2.5">226</text><text class="a" y="9">Lys</text></g>
<g id="r227" transform="translate(870,635)"><use href="#o"/><text class="n" y="-2.5">227</text><text class="a" y="9">Val</text></g>
<g id="r228" transform="translate(850,661)"><use href="#o"/><text class="n" y="-2.5">228</text><text class="a" y="9">Pro</text></g>
<g id="r229" transform="translate(819.1,661)"><use href="#o"/><text class="n" y="-2.5">229</text><text class="a" y="9">Thr</text></g>
<g id="r230" transform="translate(788.2,661)"><use href="#o"/><text class="n" y="-2.5">230</text><text class="a" y="9">Al</text></g>
<g id="r231" transform="translate(757.3,661)"><use href="#o"/><text class="n" y="-2.5">231</text><text class="a" y="9">Asp</text></g>
<g id="r232" transform="translate(726.4,661)"><use href="#o"/><text class="n" y="-2.5">232</text><text class="a" y="9">Leu</text></g>
<g id="r233" transform="translate(695.5,661)"><use href="#o"/><text class="n" y="-2.5">233</text><text class="a" y="9">Glu</text></g>
<g id="r234" transform="translate(664.6,661)"><use href="#o"/><text class="n" y="-2.5">234</text><text class="a" y="9">Asp</text></g>
<g id="r235" transform="translate(633.7,661)"><use href="#o"/><text class="n" y="-2.5">235</text><text class="a" y="9">Val</text></g>
<g id="r236" transform="translate(602.8,661)"><use href="#o"/><text class="n" y="-2.5">236</text><text class="a" y="9">Leu</text></g>
<g id="r237" transform="translate(571.9,661)"><use href="#o"/><text class="n" y="-2.5">237</text><text class="a" y="9">Pro</text></g>
<g id="r238" transform="translate(541,661)"><use href="#o"/><text class="n" y="-2.5">238</text><text class="a" y="9">Leu</text></g>
<g id="r239" transform="translate(510.1,661)"><use href="#o"/><text class="n" y="-2.5">239</text><text class="a" y="9">Ala</text></g>
<g id="r240" transform="translate(479.2,661)"><use href="#o"/><text class="n" y="-2.5">240</text><text class="a" y="9">Glu</text></g>
<g id="r241" transform="translate(448.3,661)"><use href="#o"/><text class="n" y="-2.5">241</text><text class="a" y="9">Asp</text></g>
<g id="r242" transform="translate(417.4,661)"><use href="#o"/><text class="n" y="-2.5">242</text><text class="a" y="9">Ile</text></g>
<g id="r243" transform="translate(386.5,661)"><use href="#o"/><text class="n" y="-2.5">243</text><text class="a" y="9">Thr</text></g>
<g id="r244" transform="translate(355.6,661)"><use href="#o"/><text class="n" y="-2.5">244</text><text class="a" y="9">Asn</text></g>
<g id="r245" transform="translate(324.7,661)"><use href="#o"/><text class="n" y="-2.5">245</text><text class="a" y="9">Ile</text></g>
<g id="r246" transform="translate(293.8,661)"><use href="#o"/><text class="n" y="-2.5">246</text><text class="a" y="9">Leu</text></g>
<g id="r247" transform="translate(262.9,661)"><use href="#o"/><text class="n" y="-2.5">247</text><text class="a" y="9">Ser</text></g>
<g id="r248" transform="translate(232,661)"><use href="#o"/><text class="n" y="-2.5">248</text><text class="a" y="9">Lys</text></g>
<g id="r249" transform="translate(201.5,661)"><use href="#o"/><text class="n" y="-2.5">249</text><text class="a" y="9">Cys</text></g>
<g id="r250" transform="translate(171,661)"><use href="#o"/><text class="n" y="-2.5">250</text><text class="a" y="9">Cys</text></g>
<g id="r251" transform="translate(139.3,661)"><use href="#o"/><text class="n" y="-2.5">251</text><text class="a" y="9">Glu</text></g>
<g id="r252" transform="translate(108.4,661)"><use href="#o"/><text class="n" y="-2.5">252</text><text class="a" y="9">Ser</text></g>
<g id="r253" transform="translate(95,688)"><use href="#o"/><text class="n" y="-2.5">253</text><text class="a" y="9">Ala</text></g>
<g id="r254" transform="translate(107.5,714)"><use href="#o"/><text class="n" y="-2.5">254</text><text class="a" y="9">Ser</text></g>
<g id="r255" transform="translate(138.4,714)"><use href="#o"/><text class="n" y="-2.5">255</text><text class="a" y="9">Glu</text></g>
<g id="r256" transform="translate(169.3,714)"><use href="#o"/><text class="n" y="-2.5">256</text><text class="a" y="9">Asp</text></g>
<g id="r257" transform="translate(200.5,714)"><use href="#o"/><text class="n" y="-2.5">257</text><text class="a" y="9">Cys</text></g>
<g id="r258" transform="translate(231.1,714)"><use href="#o"/><text class="n" y="-2.5">258</text><text class="a" y="9">Met</text></g>
<g id="r259" transform="translate(262,714)"><use href="#o"/><text class="n" y="-2.5">259</text><text class="a" y="9">Ala</text></g>
<g id="r260" transform="translate(292.9,714)"><use href="#o"/><text class="n" y="-2.5">260</text><text class="a" y="9">Lys</text></g>
<g id="r261" transform="translate(323.8,714)"><use href="#o"/><text class="n" y="-2.5">261</text><text class="a" y="9">Glu</text></g>
<g id="r262" transform="translate(354.7,714)"><use href="#o"/><text class="n" y="-2.5">262</text><text class="a" y="9">Leu</text></g>
<g id="r263" transform="translate(385.6,714)"><use href="#o"/><text class="n" y="-2.5">263</text><text class="a" y="9">Pro</text></g>
<g id="r264" transform="translate(416.5,714)"><use href="#o"/><text class="n" y="-2.5">264</text><text class="a" y="9">Glu</text></g>
<g id="r265" transform="translate(447.4,714)"><use href="#o"/><text class="n" y="-2.5">265</text><text class="a" y="9">His</text></g>
<g id="r266" transform="translate(478.3,714)"><use href="#o"/><text class="n" y="-2.5">266</text><text class="a" y="9">Thr</text></g>
<g id="r267" transform="translate(509.2,714)"><use href="#o"/><text class="n" y="-2.5">267</text><text class="a" y="9">Val</text></g>
<g id="r268" transform="translate(540.1,714)"><use href="#o"/><text class="n" y="-2.5">268</text><text class="a" y="9">Lys</text></g>
<g id="r269" transform="translate(571,714)"><use href="#o"/><text class="n" y="-2.5">269</text><text class="a" y="9">Leu</text></g>
<g id="r270" transform="translate(601.9,714)"><use href="#o"/><text class="n" y="-2.5">270</text><text class="a" y="9">Cys</text></g>
<g id="r271" transform="translate(632.8,714)"><use href="#o"/><text class="n" y="-2.5">271</text><text class="a" y="9">Asp</text></g>
<g id="r272" transform="translate(663.7,714)"><use href="#o"/><text class="n" y="-2.5">272</text><text class="a" y="9">Asn</text></g>
<g id="r273" transform="translate(694.6,714)"><use href="#o"/><text class="n" y="-2.5">273</text><text class="a" y="9">Leu</text></g>
<g id="r274" transform="translate(725.5,714)"><use href="#o"/><text class="n" y="-2.5">274</text><text class="a" y="9">Ser</text></g>
<g id="r275" transform="translate(756.4,714)"><use href="#o"/><text class="n" y="-2.5">275</text><text class="a" y="9">Thr</text></g>
<g id="r276" transform="translate(787.3,714)"><use href="#o"/><text class="n" y="-2.5">276</text><text class="a" y="9">Lys</text></g>
<g id="r277" transform="translate(799,740)"><use href="#o"/><text class="n" y="-2.5">277</text><text class="a" y="9">Asp</text></g>
<g id="r278" transform="translate(787,768)"><use href="#o"/><text class="n" y="-2.5">278</text><text class="a" y="9">Ser</text></g>
<g id="r279" transform="translate(756,768)"><use href="#o"/><text class="n" y="-2.5">279</text><text class="a" y="9">Lys</text></g>
<g id="r280" transform="translate(725,768)"><use href="#o"/><text class="n" y="-2.5">280</text><text class="a" y="9">Phe</text></g>
<g id="r281" transform="translate(694,768)"><use href="#o"/><text class="n" y="-2.5">281</text><text class="a" y="9">Glu</text></g>
<g id="r282" transform="translate(663,768)"><use href="#o"/><text class="n" y="-2.5">282</text><text class="a" y="9">Asp</text></g>
<g id="r283" transform="translate(632,768)"><use href="#o"/><text class="n" y="-2.5">283</text><text class="a" y="9">Cys</text></g>
<g id="r284" transform="translate(601,768)"><use href="#o"/><text class="n" y="-2.5">284</text><text class="a" y="9">Cys</text></g>
<g id="r285" transform="translate(570,768)"><use href="#o"/><text class="n" y="-2.5">285</text><text class="a" y="9">Gln</text></g>
<g id="r286" transform="translate(539,768)"><use href="#o"/><text class="n" y="-2.5">286</text><text class="a" y="9">Glu</text></g>
<g id="r287" transform="translate(508,768)"><use href="#o"/><text class="n" y="-2.5">287</text><text class="a" y="9">Lys</text></g>
<g id="r288" transform="translate(477,768)"><use href="#o"/><text class="n" y="-2.5">288</text><text class="a" y="9">Thr</text></g>
<g id="r289" transform="translate(454,789)"><use href="#o"/><text class="n" y="-2.5">289</text><text class="a" y="9">Ala</text></g>
<g id="r290" transform="translate(474,815)"><use href="#o"/><text class="n" y="-2.5">290</text><text class="a" y="9">Met</text></g>
<g id="r291" transform="translate(504.9,815)"><use href="#o"/><text class="n" y="-2.5">291</text><text class="a" y="9">Asp</text></g>
<g id="r292" transform="translate(535.8,815)"><use href="#o"/><text class="n" y="-2.5">292</text><text class="a" y="9">Val</text></g>
<g id="r293" transform="translate(566.7,815)"><use href="#o"/><text class="n" y="-2.5">293</text><text class="a" y="9">Phe</text></g>
<g id="r294" transform="translate(597.6,815)"><use href="#o"/><text class="n" y="-2.5">294</text><text class="a" y="9">Val</text></g>
<g id="r295" transform="translate(628.5,815)"><use href="#o"/><text class="n" y="-2.5">295</text><text class="a" y="9">Cys</text></g>
<g id="r296" transform="translate(659.4,815)"><use href="#o"/><text class="n" y="-2.5">296</text><text class="a" y="9">Thr</text></g>
<g id="r297" transform="translate(690.3,815)"><use href="#o"/><text class="n" y="-2.5">297</text><text class="a" y="9">Tyr</text></g>
<g id="r298" transform="translate(721.2,815)"><use href="#o"/><text class="n" y="-2.5">298</text><text class="a" y="9">Phe</text></g>
<g id="r299" transform="translate(746,829)"><use href="#o"/><text class="n" y="-2.5">299</text><text class="a" y="9">Met</text></g>
<g id="r300" transform="translate(746,858)"><use href="#o"/><text class="n" y="-2.5">300</text><text class="a" y="9">Pro</text></g>
<g id="r301" transform="translate(721,873)"><use href="#o"/><text class="n" y="-2.5">301</text><text class="a" y="9">Ala</text></g>
<g id="r302" transform="translate(690,873)"><use href="#o"/><text class="n" y="-2.5">302</text><text class="a" y="9">Ala</text></g>
<g id="r303" transform="translate(658.7,873)"><use href="#o"/><text class="n" y="-2.5">303</text><text class="a" y="9">Gln</text></g>
<g id="r304" transform="translate(627.5,873)"><use href="#o"/><text class="n" y="-2.5">304</text><text class="a" y="9">Leu</text></g>
<g id="r305" transform="translate(597,873)"><use href="#o"/><text class="n" y="-2.5">305</text><text class="a" y="9">Pro</text></g>
<g id="r306" transform="translate(534.5,873)"><use href="#o"/><text class="n" y="-2.5">306</text><text class="a" y="9">Glu</text></g>
<g id="r307" transform="translate(503,873)"><use href="#o"/><text class="n" y="-2.5">307</text><text class="a" y="9">Leu</text></g>
<g id="r308" transform="translate(472.6,873)"><use href="#o"/><text class="n" y="-2.5">308</text><text class="a" y="9">Pro</text></g>
<g id="r309" transform="translate(441.5,873)"><use href="#o"/><text class="n" y="-2.5">309</text><text class="a" y="9">Asp</text></g>
<g id="r310" transform="translate(410.8,873)"><use href="#o"/><text class="n" y="-2.5">310</text><text class="a" y="9">Val</text></g>
<g id="r311" transform="translate(379.6,873)"><use href="#o"/><text class="n" y="-2.5">311</text><text class="a" y="9">Arg</text></g>
<g id="r312" transform="translate(285.5,873)"><use href="#o"/><text class="n" y="-2.5">312</text><text class="a" y="9">Leu</text></g>
<g id="r313" transform="translate(252.5,873)"><use href="#o"/><text class="n" y="-2.5">313</text><text class="a" y="9">Pro</text></g>
<g id="r314" transform="translate(220.7,873)"><use href="#o"/><text class="n" y="-2.5">314</text><text class="a" y="9">Thr</text></g>
<g id="r315" transform="translate(187.8,873)"><use href="#o"/><text class="n" y="-2.5">315</text><text class="a" y="9">Asn</text></g>
<g id="r316" transform="translate(156,873)"><use href="#o"/><text class="n" y="-2.5">316</text><text class="a" y="9">Lys</text></g>
<g id="r317" transform="translate(136.4,897)"><use href="#o"/><text class="n" y="-2.5">317</text><text class="a" y="9">Asp</text></g>
<g id="r318" transform="translate(154.3,923)"><use href="#o"/><text class="n" y="-2.5">318</text><text class="a" y="9">Val</text></g>
<g id="r319" transform="translate(185.7,923)"><use href="#o"/><text class="n" y="-2.5">319</text><text class="a" y="9">Cys</text></g>
<g id="r320" transform="translate(217.2,923)"><use href="#o"/><text class="n" y="-2.5">320</text><text class="a" y="9">Asp</text></g>
<g id="r321" transform="translate(248.6,923)"><use href="#o"/><text class="n" y="-2.5">321</text><text class="a" y="9">Pro</text></g>
<g id="r322" transform="translate(280.1,923)"><use href="#o"/><text class="n" y="-2.5">322</text><text class="a" y="9">Gly</text></g>
<g id="r323" transform="translate(311.5,923)"><use href="#o"/><text class="n" y="-2.5">323</text><text class="a" y="9">Asn</text></g>
<g id="r324" transform="translate(342.9,923)"><use href="#o"/><text class="n" y="-2.5">324</text><text class="a" y="9">Thr</text></g>
<g id="r325" transform="translate(374.4,923)"><use href="#o"/><text class="n" y="-2.5">325</text><text class="a" y="9">Lys</text></g>
<g id="r326" transform="translate(405.8,923)"><use href="#o"/><text class="n" y="-2.5">326</text><text class="a" y="9">Val</text></g>
<g id="r327" transform="translate(437.3,923)"><use href="#o"/><text class="n" y="-2.5">327</text><text class="a" y="9">Met</text></g>
<g id="r328" transform="translate(468.7,923)"><use href="#o"/><text class="n" y="-2.5">328</text><text class="a" y="9">Asp</text></g>
<g id="r329" transform="translate(500.1,923)"><use href="#o"/><text class="n" y="-2.5">329</text><text class="a" y="9">Lys</text></g>
<g id="r330" transform="translate(531.6,923)"><use href="#o"/><text class="n" y="-2.5">330</text><text class="a" y="9">Tyr</text></g>
<g id="r331" transform="translate(563,923)"><use href="#o"/><text class="n" y="-2.5">331</text><text class="a" y="9">Thr</text></g>
<g id="r332" transform="translate(625.8,923)"><use href="#o"/><text class="n" y="-2.5">332</text><text class="a" y="9">Phe</text></g>
<g id="r333" transform="translate(721,923)"><use href="#o"/><text class="n" y="-2.5">333</text><text class="a" y="9">Glu</text></g>
<g id="r334" transform="translate(752.2,923)"><use href="#o"/><text class="n" y="-2.5">334</text><text class="a" y="9">Leu</text></g>
<g id="r335" transform="translate(783.4,923)"><use href="#o"/><text class="n" y="-2.5">335</text><text class="a" y="9">Ser</text></g>
<g id="r336" transform="translate(814.6,923)"><use href="#o"/><text class="n" y="-2.5">336</text><text class="a" y="9">Arg</text></g>
<g id="r337" transform="translate(845.8,923)"><use href="#o"/><text class="n" y="-2.5">337</text><text class="a" y="9">Arg</text></g>
<g id="r338" transform="translate(870,933)"><use href="#o"/><text class="n" y="-2.5">338</text><text class="a" y="9">Thr</text></g>
<g id="r339" transform="translate(870,963)"><use href="#o"/><text class="n" y="-2.5">339</text><text class="a" y="9">His</text></g>
<g id="r340" transform="translate(847,978)"><use href="#o"/><text class="n" y="-2.5">340</text><text class="a" y="9">Leu</text></g>
<g id="r341" transform="translate(815.4,978)"><use href="#o"/><text class="n" y="-2.5">341</text><text class="a" y="9">Pro</text></g>
<g id="r342" transform="translate(783.7,978)"><use href="#o"/><text class="n" y="-2.5">342</text><text class="a" y="9">Glu</text></g>
<g id="r343" transform="translate(752.1,978)"><use href="#o"/><text class="n" y="-2.5">343</text><text class="a" y="9">Val</text></g>
<g id="r344" transform="translate(720.4,978)"><use href="#o"/><text class="n" y="-2.5">344</text><text class="a" y="9">Phe</text></g>
<g id="r345" transform="translate(688.8,978)"><use href="#o"/><text class="n" y="-2.5">345</text><text class="a" y="9">Leu</text></g>
<g id="r346" transform="translate(657.2,978)"><use href="#o"/><text class="n" y="-2.5">346</text><text class="a" y="9">Ser</text></g>
<g id="r347" transform="translate(625.5,978)"><use href="#o"/><text class="n" y="-2.5">347</text><text class="a" y="9">Lys</text></g>
<g id="r348" transform="translate(593.9,978)"><use href="#o"/><text class="n" y="-2.5">348</text><text class="a" y="9">Val</text></g>
<g id="r349" transform="translate(562.2,978)"><use href="#o"/><text class="n" y="-2.5">349</text><text class="a" y="9">Leu</text></g>
<g id="r350" transform="translate(530.6,978)"><use href="#o"/><text class="n" y="-2.5">350</text><text class="a" y="9">Glu</text></g>
<g id="r351" transform="translate(499,978)"><use href="#o"/><text class="n" y="-2.5">351</text><text class="a" y="9">Pro</text></g>
<g id="r352" transform="translate(467.3,978)"><use href="#o"/><text class="n" y="-2.5">352</text><text class="a" y="9">Thr</text></g>
<g id="r353" transform="translate(435.7,978)"><use href="#o"/><text class="n" y="-2.5">353</text><text class="a" y="9">Leu</text></g>
<g id="r354" transform="translate(404,978)"><use href="#o"/><text class="n" y="-2.5">354</text><text class="a" y="9">Lys</text></g>
<g id="r355" transform="translate(372.4,978)"><use href="#o"/><text class="n" y="-2.5">355</text><text class="a" y="9">Ser</text></g>
<g id="r356" transform="translate(340.8,978)"><use href="#o"/><text class="n" y="-2.5">356</text><text class="a" y="9">Leu</text></g>
<g id="r357" transform="translate(309.1,978)"><use href="#o"/><text class="n" y="-2.5">357</text><text class="a" y="9">Gly</text></g>
<g id="r358" transform="translate(277.5,978)"><use href="#o"/><text class="n" y="-2.5">358</text><text class="a" y="9">Glu</text></g>
<g id="r359" transform="translate(221.3,978)"><use href="#o"/><text class="n" y="-2.5">359</text><text class="a" y="9">Cys</text></g>
<g id="r360" transform="translate(189.5,978)"><use href="#o"/><text class="n" y="-2.5">360</text><text class="a" y="9">Cys</text></g>
<g id="r361" transform="translate(157.5,978)"><use href="#o"/><text class="n" y="-2.5">361</text><text class="a" y="9">Asp</text></g>
<g id="r362" transform="translate(125.5,978)"><use href="#o"/><text class="n" y="-2.5">362</text><text class="a" y="9">Val</text></g>
<g id="r363" transform="translate(100,993)"><use href="#o"/><text class="n" y="-2.5">363</text><text class="a" y="9">Glu</text></g>
<g id="r364" transform="translate(100.5,1021)"><use href="#o"/><text class="n" y="-2.5">364</text><text class="a" y="9">Asp</text></g>
<g id="r365" transform="translate(124.8,1031)"><use href="#o"/><text class="n" y="-2.5">365</text><text class="a" y="9">Ser</text></g>
<g id="r366" transform="translate(156.3,1031)"><use href="#o"/><text class="n" y="-2.5">366</text><text class="a" y="9">Thr</text></g>
<g id="r367" transform="translate(187.8,1031)"><use href="#o"/><text class="n" y="-2.5">367</text><text class="a" y="9">Thr</text></g>
<g id="r368" transform="translate(219.3,1031)"><use href="#o"/><text class="n" y="-2.5">368</text><text class="a" y="9">Cys</text></g>
<g id="r369" transform="translate(250.8,1031)"><use href="#o"/><text class="n" y="-2.5">369</text><text class="a" y="9">Phe</text></g>
<g id="r370" transform="translate(282.3,1031)"><use href="#o"/><text class="n" y="-2.5">370</text><text class="a" y="9">Asn</text></g>
<g id="r371" transform="translate(313.8,1031)"><use href="#o"/><text class="n" y="-2.5">371</text><text class="a" y="9">Ala</text></g>
<g id="r372" transform="translate(345.3,1031)"><use href="#o"/><text class="n" y="-2.5">372</text><text class="a" y="9">Lys</text></g>
<g id="r373" transform="translate(376.8,1031)"><use href="#o"/><text class="n" y="-2.5">373</text><text class="a" y="9">Gly</text></g>
<g id="r374" transform="translate(408.3,1031)"><use href="#o"/><text class="n" y="-2.5">374</text><text class="a" y="9">Pro</text></g>
<g id="r375" transform="translate(439.8,1031)"><use href="#o"/><text class="n" y="-2.5">375</text><text class="a" y="9">Leu</text></g>
<g id="r376" transform="translate(471.3,1031)"><use href="#o"/><text class="n" y="-2.5">376</text><text class="a" y="9">Leu</text></g>
<g id="r377" transform="translate(502.8,1031)"><use href="#o"/><text class="n" y="-2.5">377</text><text class="a" y="9">Lys</text></g>
<g id="r378" transform="translate(525,1057)"><use href="#o"/><text class="n" y="-2.5">378</text><text class="a" y="9">Lys</text></g>
<g id="r379" transform="translate(505.6,1080)"><use href="#o"/><text class="n" y="-2.5">379</text><text class="a" y="9">Glu</text></g>
<g id="r380" transform="translate(474.6,1080)"><use href="#o"/><text class="n" y="-2.5">380</text><text class="a" y="9">Leu</text></g>
<g id="r381" transform="translate(443.5,1080)"><use href="#o"/><text class="n" y="-2.5">381</text><text class="a" y="9">Ser</text></g>
<g id="r382" transform="translate(412.5,1080)"><use href="#o"/><text class="n" y="-2.5">382</text><text class="a" y="9">Ser</text></g>
<g id="r383" transform="translate(381.5,1080)"><use href="#o"/><text class="n" y="-2.5">383</text><text class="a" y="9">Phe</text></g>
<g id="r384" transform="translate(350.5,1080)"><use href="#o"/><text class="n" y="-2.5">384</text><text class="a" y="9">Ile</text></g>
<g id="r385" transform="translate(319.4,1080)"><use href="#o"/><text class="n" y="-2.5">385</text><text class="a" y="9">Asp</text></g>
<g id="r386" transform="translate(288.4,1080)"><use href="#o"/><text class="n" y="-2.5">386</text><text class="a" y="9">Lys</text></g>
<g id="r387" transform="translate(257.4,1080)"><use href="#o"/><text class="n" y="-2.5">387</text><text class="a" y="9">Gly</text></g>
<g id="r388" transform="translate(226.3,1080)"><use href="#o"/><text class="n" y="-2.5">388</text><text class="a" y="9">Gln</text></g>
<g id="r389" transform="translate(195.3,1080)"><use href="#o"/><text class="n" y="-2.5">389</text><text class="a" y="9">Glu</text></g>
<g id="r390" transform="translate(184,1106)"><use href="#o"/><text class="n" y="-2.5">390</text><text class="a" y="9">Leu</text></g>
<g id="r391" transform="translate(193.6,1132)"><use href="#o"/><text class="n" y="-2.5">391</text><text class="a" y="9">Cys</text></g>
<g id="r392" transform="translate(225.4,1132)"><use href="#o"/><text class="n" y="-2.5">392</text><text class="a" y="9">Al</text></g>
<g id="r393" transform="translate(257.1,1132)"><use href="#o"/><text class="n" y="-2.5">393</text><text class="a" y="9">Asp</text></g>
<g id="r394" transform="translate(288.9,1132)"><use href="#o"/><text class="n" y="-2.5">394</text><text class="a" y="9">Tyr</text></g>
<g id="r395" transform="translate(320.7,1132)"><use href="#o"/><text class="n" y="-2.5">395</text><text class="a" y="9">Ser</text></g>
<g id="r396" transform="translate(352.5,1132)"><use href="#o"/><text class="n" y="-2.5">396</text><text class="a" y="9">Glu</text></g>
<g id="r397" transform="translate(384.2,1132)"><use href="#o"/><text class="n" y="-2.5">397</text><text class="a" y="9">Asp</text></g>
<g id="r398" transform="translate(416,1132)"><use href="#o"/><text class="n" y="-2.5">398</text><text class="a" y="9">Thr</text></g>
<g id="r399" transform="translate(447.8,1132)"><use href="#o"/><text class="n" y="-2.5">399</text><text class="a" y="9">Phe</text></g>
<g id="r400" transform="translate(479.5,1132)"><use href="#o"/><text class="n" y="-2.5">400</text><text class="a" y="9">Thr</text></g>
<g id="r401" transform="translate(511.3,1132)"><use href="#o"/><text class="n" y="-2.5">401</text><text class="a" y="9">Glu</text></g>
<g id="r402" transform="translate(543.1,1132)"><use href="#o"/><text class="n" y="-2.5">402</text><text class="a" y="9">Tyr</text></g>
<g id="r403" transform="translate(574.8,1132)"><use href="#o"/><text class="n" y="-2.5">403</text><text class="a" y="9">Lys</text></g>
<g id="r404" transform="translate(606.6,1132)"><use href="#o"/><text class="n" y="-2.5">404</text><text class="a" y="9">Lys</text></g>
<g id="r405" transform="translate(638.4,1132)"><use href="#o"/><text class="n" y="-2.5">405</text><text class="a" y="9">Lys</text></g>
<g id="r406" transform="translate(670.2,1132)"><use href="#o"/><text class="n" y="-2.5">406</text><text class="a" y="9">Leu</text></g>
<g id="r407" transform="translate(701.9,1132)"><use href="#o"/><text class="n" y="-2.5">407</text><text class="a" y="9">Ala</text></g>
<g id="r408" transform="translate(733.7,1132)"><use href="#o"/><text class="n" y="-2.5">408</text><text class="a" y="9">Glu</text></g>
<g id="r409" transform="translate(765.5,1132)"><use href="#o"/><text class="n" y="-2.5">409</text><text class="a" y="9">Arg</text></g>
<g id="r410" transform="translate(797.2,1132)"><use href="#o"/><text class="n" y="-2.5">410</text><text class="a" y="9">Leu</text></g>
<g id="r411" transform="translate(829,1132)"><use href="#o"/><text class="n" y="-2.5">411</text><text class="a" y="9">Lys</text></g>
<g id="r412" transform="translate(860.8,1132)"><use href="#o"/><text class="n" y="-2.5">412</text><text class="a" y="9">Al</text></g>
<g id="r413" transform="translate(892.5,1132)"><use href="#o"/><text class="n" y="-2.5">413</text><text class="a" y="9">Lys</text></g>
<g id="r414" transform="translate(906,1160)"><use href="#o"/><text class="n" y="-2.5">414</text><text class="a" y="9">Leu</text></g>
<g id="r415" transform="translate(896.9,1192)"><use href="#o"/><text class="n" y="-2.5">415</text><text class="a" y="9">Pro</text></g>
<g id="r416" transform="translate(865,1192)"><use href="#o"/><text class="n" y="-2.5">416</text><text class="a" y="9">Glu</text></g>
<g id="r417" transform="translate(833.1,1192)"><use href="#o"/><text class="n" y="-2.5">417</text><text class="a" y="9">Ala</text></g>
<g id="r418" transform="translate(801.3,1192)"><use href="#o"/><text class="n" y="-2.5">418</text><text class="a" y="9">Thr</text></g>
<g id="r419" transform="translate(769.4,1192)"><use href="#o"/><text class="n" y="-2.5">419</text><text class="a" y="9">Pro</text></g>
<g id="r420" transform="translate(737.5,1192)"><ellipse rx="12.5" ry="13" fill="#000099" stroke="#e8e800" stroke-width="2.5"/><text class="n y" y="-2.5">420</text><text class="a y" y="9">Thr</text></g>
<g id="r421" transform="translate(705.6,1192)"><use href="#o"/><text class="n" y="-2.5">421</text><text class="a" y="9">Glu</text></g>
<g id="r422" transform="translate(673.7,1192)"><use href="#o"/><text class="n" y="-2.5">422</text><text class="a" y="9">Leu</text></g>
<g id="r423" transform="translate(641.9,1192)"><use href="#o"/><text class="n" y="-2.5">423</text><text class="a" y="9">Ala</text></g>
<g id="r424" transform="translate(610,1192)"><use href="#o"/><text class="n" y="-2.5">424</text><text class="a" y="9">Lys</text></g>
<g id="r425" transform="translate(578.1,1192)"><use href="#o"/><text class="n" y="-2.5">425</text><text class="a" y="9">Leu</text></g>
<g id="r426" transform="translate(546.2,1192)"><use href="#o"/><text class="n" y="-2.5">426</text><text class="a" y="9">Val</text></g>
<g id="r427" transform="translate(514.3,1192)"><use href="#o"/><text class="n" y="-2.5">427</text><text class="a" y="9">Asp</text></g>
<g id="r428" transform="translate(482.5,1192)"><use href="#o"/><text class="n" y="-2.5">428</text><text class="a" y="9">Lys</text></g>
<g id="r429" transform="translate(450.6,1192)"><use href="#o"/><text class="n" y="-2.5">429</text><text class="a" y="9">Arg</text></g>
<g id="r430" transform="translate(418.7,1192)"><use href="#o"/><text class="n" y="-2.5">430</text><text class="a" y="9">Ser</text></g>
<g id="r431" transform="translate(386.8,1192)"><use href="#o"/><text class="n" y="-2.5">431</text><text class="a" y="9">Asp</text></g>
<g id="r432" transform="translate(354.9,1192)"><use href="#o"/><text class="n" y="-2.5">432</text><text class="a" y="9">Phe</text></g>
<g id="r433" transform="translate(323,1192)"><use href="#o"/><text class="n" y="-2.5">433</text><text class="a" y="9">Ala</text></g>
<g id="r434" transform="translate(291.2,1192)"><use href="#o"/><text class="n" y="-2.5">434</text><text class="a" y="9">Ser</text></g>
<g id="r435" transform="translate(259.3,1192)"><use href="#o"/><text class="n" y="-2.5">435</text><text class="a" y="9">Asp</text></g>
<g id="r436" transform="translate(227.4,1192)"><use href="#o"/><text class="n" y="-2.5">436</text><text class="a" y="9">Cys</text></g>
<g id="r437" transform="translate(195.5,1192)"><use href="#o"/><text class="n" y="-2.5">437</text><text class="a" y="9">Cys</text></g>
<g id="r438" transform="translate(163.6,1192)"><use href="#o"/><text class="n" y="-2.5">438</text><text class="a" y="9">Ser</text></g>
<g id="r439" transform="translate(131.7,1192)"><use href="#o"/><text class="n" y="-2.5">439</text><text class="a" y="9">Ile</text></g>
<g id="r440" transform="translate(77,1201)"><use href="#o"/><text class="n" y="-2.5">440</text><text class="a" y="9">Asn</text></g>
<g id="r441" transform="translate(77,1229)"><use href="#o"/><text class="n" y="-2.5">441</text><text class="a" y="9">Ser</text></g>
<g id="r442" transform="translate(102.3,1247)"><use href="#o"/><text class="n" y="-2.5">442</text><text class="a" y="9">Pro</text></g>
<g id="r443" transform="translate(133.9,1247)"><use href="#o"/><text class="n" y="-2.5">443</text><text class="a" y="9">Pro</text></g>
<g id="r444" transform="translate(165.6,1247)"><use href="#o"/><text class="n" y="-2.5">444</text><text class="a" y="9">Leu</text></g>
<g id="r445" transform="translate(197.2,1247)"><use href="#o"/><text class="n" y="-2.5">445</text><text class="a" y="9">Tyr</text></g>
<g id="r446" transform="translate(228.8,1247)"><use href="#o"/><text class="n" y="-2.5">446</text><text class="a" y="9">Cys</text></g>
<g id="r447" transform="translate(260.5,1247)"><use href="#o"/><text class="n" y="-2.5">447</text><text class="a" y="9">Asp</text></g>
<g id="r448" transform="translate(292.1,1247)"><use href="#o"/><text class="n" y="-2.5">448</text><text class="a" y="9">Ser</text></g>
<g id="r449" transform="translate(323.7,1247)"><use href="#o"/><text class="n" y="-2.5">449</text><text class="a" y="9">Glu</text></g>
<g id="r450" transform="translate(355.3,1247)"><use href="#o"/><text class="n" y="-2.5">450</text><text class="a" y="9">Ile</text></g>
<g id="r451" transform="translate(387,1247)"><use href="#o"/><text class="n" y="-2.5">451</text><text class="a" y="9">Asp</text></g>
<g id="r452" transform="translate(418.6,1247)"><use href="#o"/><text class="n" y="-2.5">452</text><text class="a" y="9">Ala</text></g>
<g id="r453" transform="translate(450.2,1247)"><use href="#o"/><text class="n" y="-2.5">453</text><text class="a" y="9">Glu</text></g>
<g id="r454" transform="translate(481.9,1247)"><use href="#o"/><text class="n" y="-2.5">454</text><text class="a" y="9">Leu</text></g>
<g id="r455" transform="translate(513.5,1247)"><use href="#o"/><text class="n" y="-2.5">455</text><text class="a" y="9">Lys</text></g>
<g id="r456" transform="translate(545.1,1247)"><use href="#o"/><text class="n" y="-2.5">456</text><text class="a" y="9">Asp</text></g>
<g id="r457" transform="translate(576.7,1247)"><use href="#o"/><text class="n" y="-2.5">457</text><text class="a" y="9">Ile</text></g>
<g id="r458" transform="translate(608.4,1247)"><use href="#o"/><text class="n" y="-2.5">458</text><text class="a" y="9">Leu</text></g>
</g>
</svg>
